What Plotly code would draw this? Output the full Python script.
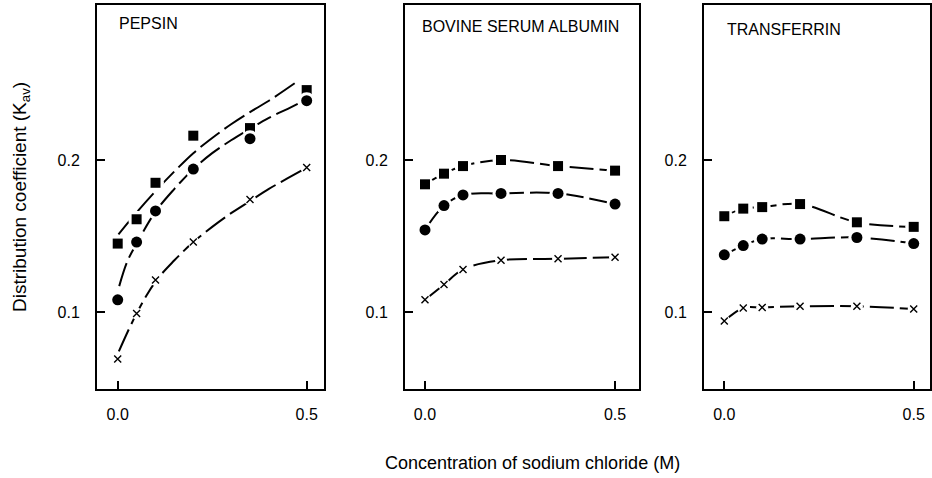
import plotly.graph_objects as go

W, H = 932, 478

# ---------------- data ----------------
x_conc = [0.0, 0.05, 0.1, 0.2, 0.35, 0.5]

pepsin_sq = [0.145, 0.161, 0.185, 0.216, 0.221, 0.246]
pepsin_ci = [0.108, 0.146, 0.1665, 0.194, 0.214, 0.239]
pepsin_x = [0.069, 0.099, 0.121, 0.146, 0.174, 0.195]

bsa_sq = [0.184, 0.191, 0.196, 0.200, 0.196, 0.193]
bsa_ci = [0.154, 0.170, 0.177, 0.178, 0.178, 0.171]
bsa_x = [0.108, 0.118, 0.128, 0.134, 0.135, 0.136]

tf_sq = [0.163, 0.168, 0.169, 0.171, 0.159, 0.156]
tf_ci = [0.1376, 0.1437, 0.148, 0.148, 0.149, 0.145]
tf_x = [0.094, 0.1026, 0.103, 0.1037, 0.1037, 0.102]

# fitted curves drawn for pepsin
pep_fit_sq_x = [0.002, 0.05, 0.1, 0.15, 0.2, 0.25, 0.3, 0.35, 0.4, 0.474]
pep_fit_sq_y = [0.151, 0.1655, 0.1795, 0.1925, 0.2045, 0.2145, 0.2235, 0.2315, 0.239, 0.2515]
pep_fit_ci_x = [0.004, 0.025, 0.05, 0.1, 0.15, 0.2, 0.25, 0.3, 0.35, 0.4, 0.45, 0.5]
pep_fit_ci_y = [0.117, 0.133, 0.145, 0.166, 0.181, 0.194, 0.2045, 0.213, 0.2205, 0.2277, 0.2337, 0.2398]
pep_fit_x_x = [0.003, 0.05, 0.1, 0.15, 0.2, 0.25, 0.3, 0.35, 0.4, 0.45, 0.5]
pep_fit_x_y = [0.074, 0.099, 0.120, 0.134, 0.146, 0.156, 0.165, 0.173, 0.181, 0.188, 0.195]

panel_titles = ["PEPSIN", "BOVINE SERUM ALBUMIN", "TRANSFERRIN"]
x_ticks = [0.0, 0.5]
y_ticks = [0.1, 0.2]

FONT = "Liberation Sans, Arial, Helvetica, sans-serif"
DASH = "24px,6px"
LW = 2

fig = go.Figure()


def add_curve(xs, ys, ax):
    fig.add_trace(go.Scatter(
        x=xs, y=ys, mode="lines", xaxis="x" + ax, yaxis="y" + ax,
        line=dict(color="black", width=LW, dash=DASH, shape="spline", smoothing=1.0),
        hoverinfo="skip", showlegend=False))


def add_markers(xs, ys, ax, symbol):
    # white halo to break the line around each marker
    halo = 17 if symbol != "x-thin" else 12
    fig.add_trace(go.Scatter(
        x=xs, y=ys, mode="markers", xaxis="x" + ax, yaxis="y" + ax,
        marker=dict(symbol="circle", size=halo, color="white", line=dict(width=0)),
        hoverinfo="skip", showlegend=False))
    if symbol == "x-thin":
        mk = dict(symbol="x-thin", size=7, color="black", line=dict(width=1.4, color="black"))
    elif symbol == "square":
        mk = dict(symbol="square", size=10, color="black", line=dict(width=0))
    else:
        mk = dict(symbol="circle", size=11, color="black", line=dict(width=0))
    fig.add_trace(go.Scatter(
        x=xs, y=ys, mode="markers", xaxis="x" + ax, yaxis="y" + ax,
        marker=mk, showlegend=False))


# panel 1: pepsin (fitted curves)
add_curve(pep_fit_sq_x, pep_fit_sq_y, "")
add_curve(pep_fit_ci_x, pep_fit_ci_y, "")
add_curve(pep_fit_x_x, pep_fit_x_y, "")
add_markers(x_conc, pepsin_sq, "", "square")
add_markers(x_conc, pepsin_ci, "", "circle")
add_markers(x_conc, pepsin_x, "", "x-thin")

# panel 2: BSA
for ys, sym in [(bsa_sq, "square"), (bsa_ci, "circle"), (bsa_x, "x-thin")]:
    add_curve(x_conc, ys, "2")
for ys, sym in [(bsa_sq, "square"), (bsa_ci, "circle"), (bsa_x, "x-thin")]:
    add_markers(x_conc, ys, "2", sym)

# panel 3: transferrin
for ys, sym in [(tf_sq, "square"), (tf_ci, "circle"), (tf_x, "x-thin")]:
    add_curve(x_conc, ys, "3")
for ys, sym in [(tf_sq, "square"), (tf_ci, "circle"), (tf_x, "x-thin")]:
    add_markers(x_conc, ys, "3", sym)

# panel geometry in pixels
panels_px = [(97, 324), (405, 639), (704, 930)]
x_ranges = [[-0.0548, 0.5458], [-0.0526, 0.563], [-0.0536, 0.543]]
y_top, y_bot = 5, 389
y_range = [0.0493, 0.302]

axis_common = dict(
    showline=True, linecolor="black", linewidth=2, mirror=True,
    ticks="inside", ticklen=8, tickwidth=1.5, tickcolor="black",
    showgrid=False, zeroline=False,
    tickfont=dict(family=FONT, size=16, color="black"),
    tickformat=".1f", ticklabelstandoff=10,
)

layout = dict(
    width=W, height=H, margin=dict(l=0, r=0, t=0, b=0),
    paper_bgcolor="white", plot_bgcolor="white",
    font=dict(family=FONT, color="black"),
    showlegend=False,
)
for i, ((l, r), xr) in enumerate(zip(panels_px, x_ranges)):
    sfx = "" if i == 0 else str(i + 1)
    layout["xaxis" + sfx] = dict(
        axis_common, domain=[l / W, r / W], range=xr,
        tickvals=x_ticks, anchor="y" + sfx)
    layout["yaxis" + sfx] = dict(
        axis_common, domain=[1 - y_bot / H, 1 - y_top / H], range=y_range,
        tickvals=y_ticks, anchor="x" + sfx, ticklabelstandoff=12)

fig.update_layout(**layout)

# panel titles
title_pos = [(117, 23), (420, 27), (725, 29)]
for t, (px, py) in zip(panel_titles, title_pos):
    fig.add_annotation(text=t, x=px / W, y=1 - py / H, xref="paper", yref="paper",
                       xanchor="left", yanchor="middle", showarrow=False,
                       font=dict(family=FONT, size=16, color="black"))

# axis titles
fig.add_annotation(text="Distribution coefficient (K<sub>av</sub>)", x=21 / W, y=1 - 197 / H,
                   xref="paper", yref="paper", textangle=-90, showarrow=False,
                   xanchor="center", yanchor="middle",
                   font=dict(family=FONT, size=19, color="black"))
fig.add_annotation(text="Concentration of sodium chloride (M)", x=532 / W, y=1 - 463 / H,
                   xref="paper", yref="paper", showarrow=False,
                   xanchor="center", yanchor="middle",
                   font=dict(family=FONT, size=18, color="black"))

fig.write_html("out.html")
